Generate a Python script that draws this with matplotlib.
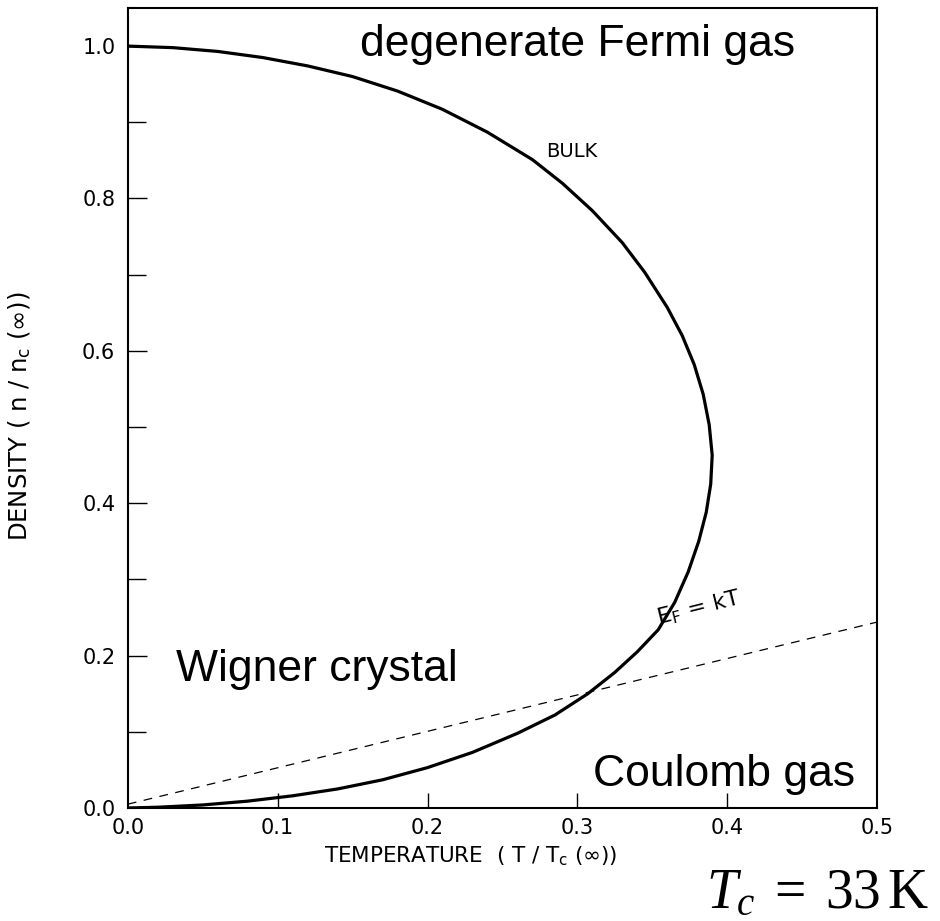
import matplotlib
matplotlib.use("Agg")
import matplotlib.pyplot as plt
from matplotlib.ticker import MultipleLocator, FixedLocator

plt.rcParams['mathtext.fontset'] = 'custom'
plt.rcParams['mathtext.rm'] = 'Liberation Serif'
plt.rcParams['mathtext.it'] = 'Liberation Serif:italic'
plt.rcParams['mathtext.sf'] = 'DejaVu Sans'

# bulk melting curve (T/Tc, n/nc): top branch -> nose -> bottom branch
temp = [0.0, 0.03, 0.06, 0.09, 0.12, 0.15, 0.18, 0.21, 0.24, 0.27,
        0.29, 0.31, 0.33, 0.345, 0.36, 0.37, 0.378, 0.384, 0.388, 0.390,
        0.389, 0.386, 0.381, 0.374, 0.365, 0.354, 0.340, 0.325, 0.307,
        0.285, 0.26, 0.23, 0.20, 0.17, 0.14, 0.11, 0.08, 0.05, 0.02, 0.0]
dens = [1.000, 0.998, 0.993, 0.985, 0.974, 0.960, 0.941, 0.917, 0.887, 0.851,
        0.820, 0.784, 0.742, 0.703, 0.657, 0.620, 0.582, 0.543, 0.503, 0.463,
        0.425, 0.388, 0.350, 0.310, 0.270, 0.234, 0.205, 0.178, 0.150,
        0.122, 0.098, 0.073, 0.053, 0.037, 0.025, 0.016, 0.009, 0.004, 0.001, 0.0]

# E_F = kT line
ef_t = [0.0, 0.5]
ef_n = [0.005, 0.244]

fig = plt.figure(figsize=(9.4, 9.21), dpi=100)
ax = fig.add_axes([0.136, 0.1227, 0.797, 0.8686])

ax.plot(temp, dens, color='black', lw=2.3, solid_capstyle='round',
        solid_joinstyle='round')
ax.plot(ef_t, ef_n, color='black', lw=0.9, linestyle=(0, (7, 6)))

ax.set_xlim(0, 0.5)
ax.set_ylim(0, 1.05)

for s in ax.spines.values():
    s.set_linewidth(1.5)

ax.yaxis.set_minor_locator(MultipleLocator(0.1))
ax.set_yticks([0, 0.2, 0.4, 0.6, 0.8, 1.0])
ax.set_yticklabels(['0.0', '0.2', '0.4', '0.6', '0.8', '1.0'])
ax.tick_params(axis='y', which='major', direction='in', length=14, width=1.0,
               pad=9, labelsize=15)
ax.tick_params(axis='y', which='minor', direction='in', length=13, width=1.0)

ax.xaxis.set_major_locator(FixedLocator([0, 0.1, 0.2, 0.3, 0.4, 0.5]))
ax.set_xticklabels(['0.0', '0.1', '0.2', '0.3', '0.4', '0.5'])
ax.tick_params(axis='x', direction='in', length=11, width=1.0, pad=7, labelsize=15)
# no visible tick marks at the ends
ax.xaxis.get_major_ticks()[0].tick1line.set_visible(False)
ax.xaxis.get_major_ticks()[-1].tick1line.set_visible(False)
ax.yaxis.get_major_ticks()[0].tick1line.set_visible(False)

ax.set_xlabel(r'TEMPERATURE  ( T / T$_\mathsf{c}$ ($\mathsf{\infty}$))', fontsize=15.5)
ax.set_ylabel(r'DENSITY ( n / n$_\mathsf{c}$ ($\mathsf{\infty}$))', fontsize=17.5)
ax.xaxis.set_label_coords(0.457, -0.045)
ax.yaxis.set_label_coords(-0.128, 0.49)

big = dict(fontsize=32, family='Liberation Sans', color='black')
ax.text(0.30, 1.002, 'degenerate Fermi gas', ha='center', va='center', **big)
ax.text(0.126, 0.182, 'Wigner crystal', ha='center', va='center', **big)
ax.text(0.398, 0.044, 'Coulomb gas', ha='center', va='center', **big)

ax.text(0.296, 0.862, 'BULK', ha='center', va='center', fontsize=14)
ax.text(0.381, 0.262, r'$\mathsf{E_F\;=\;kT}$', ha='center', va='center', fontsize=16,
        rotation=14, rotation_mode='anchor')

fig.text(0.870, 0.030, r'$T_c\;=\;33\,\mathrm{K}$', ha='center', va='center', fontsize=40)

fig.savefig('out.png', dpi=100)
